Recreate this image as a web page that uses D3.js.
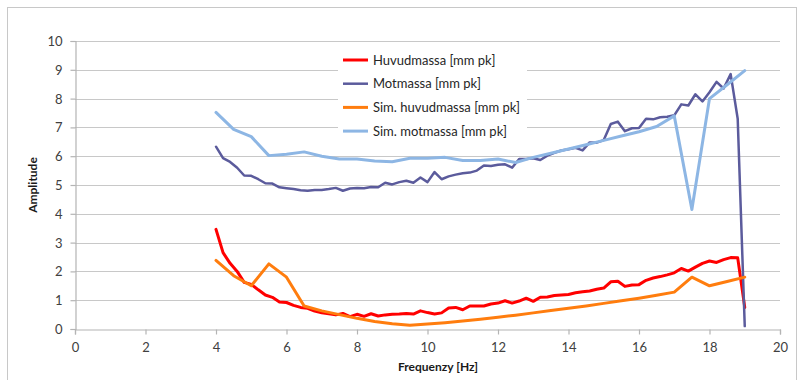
<!DOCTYPE html>
<html>
<head>
<meta charset="utf-8">
<script src="https://cdn.jsdelivr.net/npm/d3@7"></script>
<style>
  html, body { margin: 0; padding: 0; background: #fff; }
  svg { display: block; font-family: Lato, "Open Sans", sans-serif; }
</style>
</head>
<body>
<svg id="chart" width="798" height="380"></svg>
<script>
// Measured response, 0.2 Hz steps from 4 to 19 Hz
const freqMeas = d3.range(76).map(i => +(4 + i * 0.2).toFixed(1));
const huvudmassa = [
  3.46, 2.65, 2.28, 2.00, 1.62, 1.55, 1.36, 1.18, 1.10, 0.94,
  0.92, 0.82, 0.75, 0.72, 0.62, 0.56, 0.53, 0.49, 0.54, 0.43,
  0.51, 0.44, 0.53, 0.45, 0.49, 0.51, 0.52, 0.54, 0.52, 0.63,
  0.57, 0.52, 0.56, 0.73, 0.75, 0.67, 0.80, 0.80, 0.80, 0.87,
  0.90, 0.98, 0.90, 0.97, 1.07, 0.96, 1.10, 1.11, 1.16, 1.18,
  1.20, 1.26, 1.29, 1.32, 1.38, 1.42, 1.64, 1.66, 1.48, 1.53,
  1.54, 1.69, 1.77, 1.82, 1.88, 1.95, 2.10, 2.01, 2.15, 2.28,
  2.36, 2.31, 2.41, 2.48, 2.47, 0.75
];
const motmassa = [
  6.33, 5.93, 5.80, 5.60, 5.33, 5.32, 5.20, 5.06, 5.05, 4.92,
  4.89, 4.86, 4.82, 4.80, 4.83, 4.83, 4.86, 4.90, 4.80, 4.88,
  4.90, 4.89, 4.93, 4.92, 5.08, 5.02, 5.10, 5.15, 5.08, 5.26,
  5.10, 5.45, 5.20, 5.30, 5.36, 5.41, 5.43, 5.50, 5.68, 5.66,
  5.70, 5.72, 5.60, 5.90, 5.90, 5.93, 5.87, 6.02, 6.12, 6.20,
  6.24, 6.29, 6.20, 6.48, 6.47, 6.56, 7.12, 7.20, 6.87, 6.97,
  6.98, 7.30, 7.28, 7.35, 7.37, 7.42, 7.80, 7.76, 8.15, 7.90,
  8.22, 8.58, 8.35, 8.85, 7.30, 0.10
];

// Simulated response, 0.5 Hz steps
const freqSim = d3.range(31).map(i => 4 + i * 0.5);
const simHuvudmassa = [
  2.38, 1.85, 1.50, 2.26, 1.80, 0.80, 0.63, 0.50, 0.37, 0.26,
  0.18, 0.13, 0.17, 0.22, 0.28, 0.34, 0.41, 0.48, 0.56, 0.64,
  0.72, 0.80, 0.89, 0.98, 1.07, 1.17, 1.28, 1.80, 1.50, 1.65,
  1.80
];
const simMotmassa = [
  7.52, 6.93, 6.68, 6.02, 6.07, 6.15, 6.00, 5.90, 5.90, 5.83,
  5.81, 5.93, 5.93, 5.96, 5.85, 5.85, 5.90, 5.78, 5.96, 6.10,
  6.25, 6.40, 6.55, 6.70, 6.85, 7.03, 7.40, 4.15, 8.00, 8.48,
  8.97
];

const xTicks = [0, 2, 4, 6, 8, 10, 12, 14, 16, 18, 20];
const yTicks = [0, 1, 2, 3, 4, 5, 6, 7, 8, 9, 10];

const seriesList = [
  { name: "Huvudmassa [mm pk]",      x: freqMeas, y: huvudmassa,    color: "#ff0000", width: 3 },
  { name: "Motmassa [mm pk]",        x: freqMeas, y: motmassa,      color: "#5b5b9c", width: 2.5 },
  { name: "Sim. huvudmassa [mm pk]", x: freqSim,  y: simHuvudmassa, color: "#ff7d0e", width: 3 },
  { name: "Sim. motmassa [mm pk]",   x: freqSim,  y: simMotmassa,   color: "#8db6e4", width: 3 }
];

const svg = d3.select("#chart");
const plot = { left: 75, right: 780, top: 41, bottom: 329 };

const x = d3.scaleLinear().domain([0, 20]).range([plot.left, plot.right]);
const y = d3.scaleLinear().domain([0, 10]).range([plot.bottom, plot.top]);

// Outer frame
svg.append("rect")
  .attr("x", 7.5).attr("y", 7.5)
  .attr("width", 789).attr("height", 380)
  .attr("fill", "#fff").attr("stroke", "#c8c8c8").attr("stroke-width", 1);

// Horizontal gridlines
svg.append("g")
  .selectAll("line")
  .data(yTicks.filter(t => t > 0))
  .join("line")
  .attr("x1", plot.left).attr("x2", plot.right)
  .attr("y1", d => Math.round(y(d)) + 0.5).attr("y2", d => Math.round(y(d)) + 0.5)
  .attr("stroke", "#c8c8c8").attr("stroke-width", 1.2);

// Axes
const xAxis = d3.axisBottom(x).tickValues(xTicks).tickSize(5).tickPadding(8);
const yAxis = d3.axisLeft(y).tickValues(yTicks).tickSize(5).tickPadding(8);

const gx = svg.append("g")
  .attr("transform", `translate(0,${Math.round(plot.bottom) + 0.5})`)
  .call(xAxis);
const gy = svg.append("g")
  .attr("transform", `translate(${plot.left + 0.5},0)`)
  .call(yAxis);

[gx, gy].forEach(g => {
  g.select(".domain").attr("stroke", "#b4b4b4").attr("stroke-width", 1.2);
  g.selectAll(".tick line").attr("stroke", "#b4b4b4").attr("stroke-width", 1.2);
  g.selectAll(".tick text")
    .attr("fill", "#404040")
    .style("font-size", "13px")
    .style("font-family", "Lato, 'Open Sans', sans-serif");
});
gy.selectAll(".tick text").attr("dy", "0.35em");

// Axis titles
svg.append("text")
  .attr("x", 438).attr("y", 371)
  .attr("text-anchor", "middle")
  .attr("font-weight", "bold")
  .attr("font-size", 12)
  .attr("fill", "#1a1a1a")
  .text("Frequenzy [Hz]");

svg.append("text")
  .attr("transform", "translate(37,185) rotate(-90)")
  .attr("text-anchor", "middle")
  .attr("font-weight", "bold")
  .attr("font-size", 12)
  .attr("fill", "#1a1a1a")
  .text("Amplitude");

// Series lines
const line = d3.line()
  .x(d => x(d[0]))
  .y(d => y(d[1]));

svg.append("g")
  .selectAll("path")
  .data(seriesList)
  .join("path")
  .attr("d", s => line(s.x.map((f, i) => [f, s.y[i]])))
  .attr("fill", "none")
  .attr("stroke", s => s.color)
  .attr("stroke-width", s => s.width)
  .attr("stroke-linejoin", "round")
  .attr("stroke-linecap", "round");

// Legend
const legend = svg.append("g").attr("transform", "translate(338,45)");
legend.append("rect")
  .attr("width", 189).attr("height", 101)
  .attr("fill", "#fff");
const item = legend.selectAll("g.item")
  .data(seriesList)
  .join("g")
  .attr("class", "item")
  .attr("transform", (d, i) => `translate(0,${15 + i * 23.7})`);
item.append("line")
  .attr("x1", 5).attr("x2", 30)
  .attr("stroke", d => d.color)
  .attr("stroke-width", d => d.width);
item.append("text")
  .attr("x", 35).attr("dy", "0.35em")
  .attr("font-size", 13)
  .attr("fill", "#262626")
  .text(d => d.name);
</script>
</body>
</html>
